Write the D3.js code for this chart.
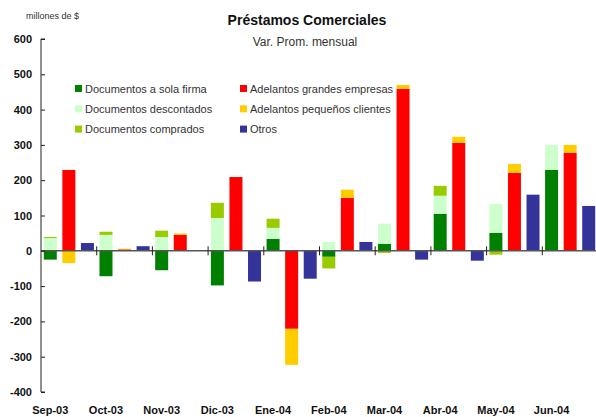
<!DOCTYPE html>
<html><head><meta charset="utf-8">
<script src="https://cdn.jsdelivr.net/npm/d3@7"></script>
<style>body{margin:0;background:#fff}svg{display:block}</style>
</head><body>
<script>
const months = ["Sep-03","Oct-03","Nov-03","Dic-03","Ene-04","Feb-04","Mar-04","Abr-04","May-04","Jun-04"];
const docSolaFirma   = [-25, -72, -55, -98, 34, -17, 20, 105, 51, 229];
const docDescontados = [36, 45, 39, 93, 31, 25, 57, 51, 82, 71];
const docComprados   = [3, 9, 18, 43, 26, -33, -6, 28, -11, 0];
const adelGrandes    = [229, 4, 45, 209, -221, 150, 459, 306, 221, 278];
const adelPequenos   = [-35, 2, 4, 0, -102, 23, 11, 17, 25, 22];
const otros          = [22, 13, 0, -87, -79, 25, -25, -28, 159, 127];
const yTicks = [600, 500, 400, 300, 200, 100, 0, -100, -200, -300, -400];

const colors = {
  sola: "#008000", desc: "#ccffcc", comp: "#99cc00",
  grandes: "#ff0000", pequenos: "#ffcc00", otros: "#333399"
};
const W = 596, H = 417;
const svg = d3.select("body").append("svg").attr("width", W).attr("height", H)
  .style("font-family", "'Liberation Sans', Arial, sans-serif");

const y = d3.scaleLinear().domain([-400, 600]).range([392, 39]);
const x = d3.scaleBand().domain(months).range([41, 598]).padding(0);
const sub = d3.scaleBand().domain([0,1,2]).range([0, x.bandwidth()]).paddingInner(0).paddingOuter(0);
const bw = 13;

const docRows = months.map((m,i)=>({m, sola: docSolaFirma[i], desc: docDescontados[i], comp: docComprados[i]}));
const adelRows = months.map((m,i)=>({m, grandes: adelGrandes[i], pequenos: adelPequenos[i]}));
const docStack = d3.stack().keys(["sola","desc","comp"]).offset(d3.stackOffsetDiverging)(docRows);
const adelStack = d3.stack().keys(["grandes","pequenos"]).offset(d3.stackOffsetDiverging)(adelRows);

function drawStack(stack, idx) {
  stack.forEach(layer => {
    svg.append("g").attr("fill", colors[layer.key]).selectAll("rect").data(layer).join("rect")
      .attr("x", d => x(d.data.m) + sub(idx) + (sub.bandwidth()-bw)/2)
      .attr("width", bw)
      .attr("y", d => y(Math.max(d[0], d[1])))
      .attr("height", d => Math.abs(y(d[0]) - y(d[1])));
  });
}
drawStack(docStack, 0);
drawStack(adelStack, 1);
svg.append("g").attr("fill", colors.otros).selectAll("rect").data(months).join("rect")
  .attr("x", (m) => x(m) + sub(2) + (sub.bandwidth()-bw)/2)
  .attr("width", bw)
  .attr("y", (m,i) => y(Math.max(0, otros[i])))
  .attr("height", (m,i) => Math.abs(y(0) - y(otros[i])));

svg.append("line").attr("x1", 41).attr("x2", W).attr("y1", y(0)).attr("y2", y(0))
  .attr("stroke", "#555").attr("stroke-width", 1.5);
svg.append("g").selectAll("line").data(months.slice(1)).join("line")
  .attr("x1", m => x(m)).attr("x2", m => x(m))
  .attr("y1", y(0) - 4.5).attr("y2", y(0) + 4.5)
  .attr("stroke", "#222").attr("stroke-width", 1);

const yAxis = d3.axisRight(y).tickValues(yTicks).tickSize(4).tickFormat(d => String(d));
const ya = svg.append("g").attr("transform", "translate(41,0)").call(yAxis);
ya.select(".domain").attr("stroke", "#222").attr("d", `M4,${y(600)}H0V${y(-400)}H4`);
ya.selectAll(".tick line").attr("stroke", "#222");
ya.selectAll(".tick text").attr("x", -9).attr("text-anchor", "end")
  .style("font-size", "11px").style("font-weight", "bold").attr("fill", "#111")
  .attr("font-family", "'Liberation Sans', Arial, sans-serif");

svg.append("g").selectAll("text").data(months).join("text")
  .attr("x", m => x(m) + sub(0) + sub.bandwidth()/2)
  .attr("y", 414)
  .attr("text-anchor", "middle")
  .style("font-size", "11px").style("font-weight", "bold").attr("fill", "#111")
  .text(m => m);

svg.append("text").attr("x", 307).attr("y", 25).attr("text-anchor", "middle")
  .style("font-size", "14px").style("font-weight", "bold").attr("fill", "#111")
  .text("Préstamos Comerciales");
svg.append("text").attr("x", 305).attr("y", 46).attr("text-anchor", "middle")
  .style("font-size", "12px").attr("fill", "#333")
  .text("Var. Prom. mensual");
svg.append("text").attr("x", 26).attr("y", 19)
  .style("font-size", "9px").attr("fill", "#333")
  .text("millones de $");

const legendItems = [
  {label: "Documentos a sola firma", key: "sola", col: 0, row: 0},
  {label: "Documentos descontados", key: "desc", col: 0, row: 1},
  {label: "Documentos comprados", key: "comp", col: 0, row: 2},
  {label: "Adelantos grandes empresas", key: "grandes", col: 1, row: 0},
  {label: "Adelantos pequeños clientes", key: "pequenos", col: 1, row: 1},
  {label: "Otros", key: "otros", col: 1, row: 2}
];
const lg = svg.append("g").selectAll("g").data(legendItems).join("g")
  .attr("transform", d => `translate(${75 + d.col*165},${88.5 + d.row*20.3})`);
lg.append("rect").attr("x", 0).attr("y", -3.5).attr("width", 7).attr("height", 7)
  .attr("fill", d => colors[d.key]);
lg.append("text").attr("x", 10).attr("y", 4).style("font-size", "11px").attr("fill", "#333")
  .text(d => d.label);
</script>
</body></html>
